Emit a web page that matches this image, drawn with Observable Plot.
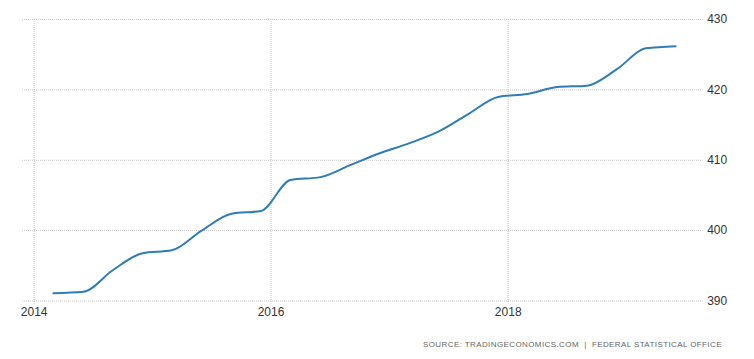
<!DOCTYPE html>
<html>
<head>
<meta charset="utf-8">
<script src="https://cdn.jsdelivr.net/npm/d3@7"></script>
<script src="https://cdn.jsdelivr.net/npm/@observablehq/plot@0.6"></script>
<style>
  html, body { margin: 0; padding: 0; background: #fff; }
  #wrap { position: relative; width: 754px; height: 359px; }
  #caption {
    position: absolute; left: 423px; top: 340px;
    font: 8px "Liberation Sans", Arial, sans-serif;
    letter-spacing: 0.4px; color: #666; white-space: nowrap;
  }
</style>
</head>
<body>
<div id="wrap">
  <div id="chart"></div>
  <div id="caption">SOURCE: TRADINGECONOMICS.COM &nbsp;|&nbsp; FEDERAL STATISTICAL OFFICE</div>
</div>
<script>
// Quarterly observations (plotted at the first day of the quarter's last month)
const dates = [
  "2014-03-01","2014-06-01","2014-09-01","2014-12-01",
  "2015-03-01","2015-06-01","2015-09-01","2015-12-01",
  "2016-03-01","2016-06-01","2016-09-01","2016-12-01",
  "2017-03-01","2017-06-01","2017-09-01","2017-12-01",
  "2018-03-01","2018-06-01","2018-09-01","2018-12-01",
  "2019-03-01","2019-06-01"
];
const values = [
  391.1, 391.3, 394.4, 396.8,
  397.2, 400.0, 402.4, 402.8,
  407.2, 407.6, 409.3, 411.0,
  412.4, 414.1, 416.6, 419.0,
  419.4, 420.4, 420.6, 422.9,
  425.9, 426.2
];
const xTickYears = [2014, 2016, 2018];
const yTicks = [390, 400, 410, 420, 430];

const data = dates.map((d, i) => ({date: new Date(d + "T00:00:00"), value: values[i]}));
const xTicks = xTickYears.map(y => new Date(y, 0, 1));

const chart = Plot.plot({
  width: 754,
  height: 330,
  marginLeft: 22,
  marginRight: 51.3,
  marginTop: 19,
  marginBottom: 29.5,
  style: {fontFamily: "'Liberation Sans', Arial, sans-serif", fontSize: "12px", color: "#333", background: "#fff"},
  x: {type: "time", domain: [new Date(2013, 10, 26), new Date(2019, 7, 25)]},
  y: {domain: [390, 430]},
  marks: [
    Plot.gridX(xTicks, {stroke: "#c8c8c8", strokeOpacity: 1, strokeDasharray: "1,1", y1: 430, y2: 390, insetBottom: -3}),
    Plot.gridY(yTicks, {stroke: "#c8c8c8", strokeOpacity: 1, strokeDasharray: "1,1"}),
    Plot.axisX(xTicks, {tickSize: 0, tickPadding: 6, tickFormat: d3.timeFormat("%Y"), fill: "#333", label: null}),
    Plot.axisY(yTicks, {anchor: "right", tickSize: 0, tickPadding: 4, textAnchor: "start", fill: "#333", label: null}),
    Plot.line(data, {x: "date", y: "value", stroke: "#2e7db8", strokeWidth: 2, curve: "monotone-x"})
  ]
});
document.getElementById("chart").appendChild(chart);
</script>
</body>
</html>
